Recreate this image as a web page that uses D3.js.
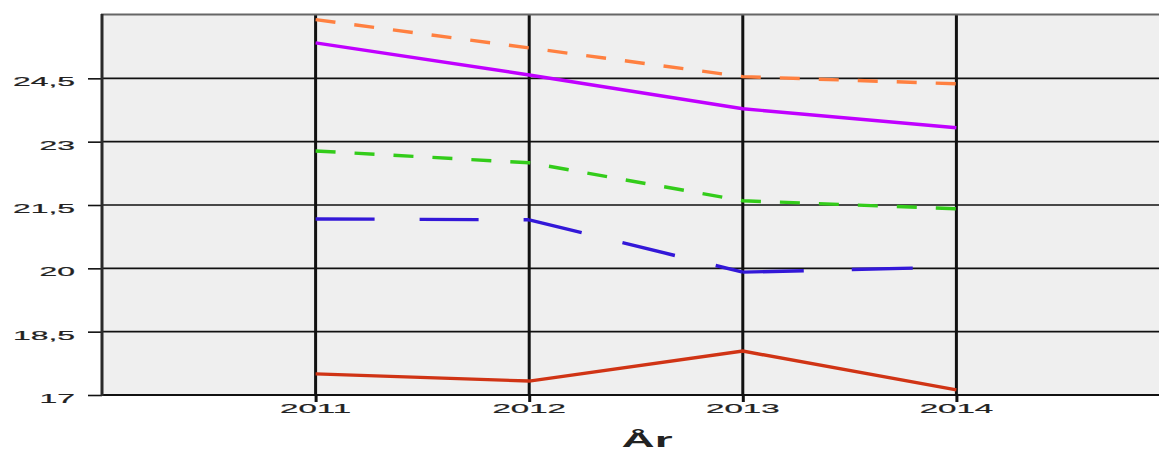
<!DOCTYPE html>
<html><head><meta charset="utf-8">
<script src="https://cdn.jsdelivr.net/npm/d3@7"></script>
<style>body{margin:0;background:#fff;overflow:hidden}svg{display:block}</style>
</head><body>
<svg id="c" width="1159" height="451"></svg>
<script>
const years = [2011, 2012, 2013, 2014];
const yTicks = [17, 18.5, 20, 21.5, 23, 24.5];
const yTickLabels = ["17", "18,5", "20", "21,5", "23", "24,5"];
const xTitle = "År";
const seriesOrange = [25.89, 25.22, 24.54, 24.37];
const seriesPurple = [25.34, 24.58, 23.78, 23.33];
const seriesGreen = [22.78, 22.50, 21.60, 21.41];
const seriesBlue = [21.17, 21.15, 19.91, 20.03];
const seriesRed = [17.50, 17.33, 18.04, 17.12];

const series = [
  {v: seriesOrange, color: "#ff8040", dash: "20,19"},
  {v: seriesPurple, color: "#c000ff", dash: null},
  {v: seriesGreen, color: "#33cc1a", dash: "20,19"},
  {v: seriesBlue, color: "#3318d8", segDash: ["59,45", "54,42", "61,48"]},
  {v: seriesRed, color: "#d03415", dash: null}
];

const svg = d3.select("#c");
const L = 102, T = 15, B = 395;
const x = d3.scaleLinear().domain([2010, 2015]).range([L, L + 5 * 213.6]);
const y = d3.scaleLinear().domain([17, 26]).range([B, T]);

svg.append("rect").attr("x", L).attr("y", T).attr("width", 1159 - L).attr("height", B - T).attr("fill", "#efefef");

// horizontal grid + y ticks
const yAxis = d3.axisLeft(y).tickValues(yTicks).tickSize(14).tickFormat("");
const gy = svg.append("g").attr("transform", `translate(${L},0)`).call(yAxis);
gy.select(".domain").remove();
gy.selectAll(".tick line").attr("stroke", "#111").attr("stroke-width", 1.6);
svg.append("g").selectAll("line").data(yTicks).join("line")
  .attr("x1", L).attr("x2", 1159).attr("y1", d => y(d)).attr("y2", d => y(d))
  .attr("stroke", "#111").attr("stroke-width", d => d === 17 ? 2 : 1.6);

// vertical grid at years + x ticks
const xAxis = d3.axisBottom(x).tickValues(years).tickSize(7).tickFormat("");
const gx = svg.append("g").attr("transform", `translate(0,${B})`).call(xAxis);
gx.select(".domain").remove();
gx.selectAll(".tick line").attr("stroke", "#111").attr("stroke-width", 3);
svg.append("g").selectAll("line").data(years).join("line")
  .attr("x1", d => x(d)).attr("x2", d => x(d)).attr("y1", T).attr("y2", B)
  .attr("stroke", "#111").attr("stroke-width", 3);

// borders
svg.append("line").attr("x1", L - 1).attr("x2", 1159).attr("y1", T - 0.5).attr("y2", T - 0.5).attr("stroke", "#666").attr("stroke-width", 2);
svg.append("line").attr("x1", L).attr("x2", L).attr("y1", T - 1).attr("y2", B + 1).attr("stroke", "#2a2a2a").attr("stroke-width", 3);

// lines
const line = d3.line().x(d => x(d[0])).y(d => y(d[1]));
series.forEach(s => {
  const pts = s.v.map((v, i) => [years[i], v]);
  if (s.segDash) {
    for (let i = 0; i < pts.length - 1; i++) {
      svg.append("path").datum([pts[i], pts[i + 1]]).attr("d", line).attr("fill", "none")
        .attr("stroke", s.color).attr("stroke-width", 3.4)
        .attr("stroke-dasharray", s.segDash[i]);
    }
  } else {
    svg.append("path").datum(pts).attr("d", line).attr("fill", "none")
      .attr("stroke", s.color).attr("stroke-width", 3.4)
      .attr("stroke-dasharray", s.dash);
  }
});

// labels (stretched font)
const SX = 2.45;
yTicks.forEach((t, i) => {
  svg.append("text").attr("transform", `translate(75,${y(t) + 8}) scale(${SX},1)`)
    .attr("text-anchor", "end").attr("font-family", "Liberation Sans, Arial, sans-serif")
    .attr("font-size", 13).attr("fill", "#222").attr("stroke", "#222").attr("stroke-width", 0.2).text(yTickLabels[i]);
});
years.forEach(t => {
  svg.append("text").attr("transform", `translate(${x(t)},${413}) scale(${SX},1)`)
    .attr("text-anchor", "middle").attr("font-family", "Liberation Sans, Arial, sans-serif")
    .attr("font-size", 13.5).attr("fill", "#222").attr("stroke", "#222").attr("stroke-width", 0.2).text(String(t));
});
svg.append("text").attr("transform", `translate(647,447) scale(2.3,1)`)
  .attr("text-anchor", "middle").attr("font-family", "Liberation Sans, Arial, sans-serif")
  .attr("font-weight", "bold").attr("font-size", 20).attr("fill", "#222").text(xTitle);
</script>
</body></html>
